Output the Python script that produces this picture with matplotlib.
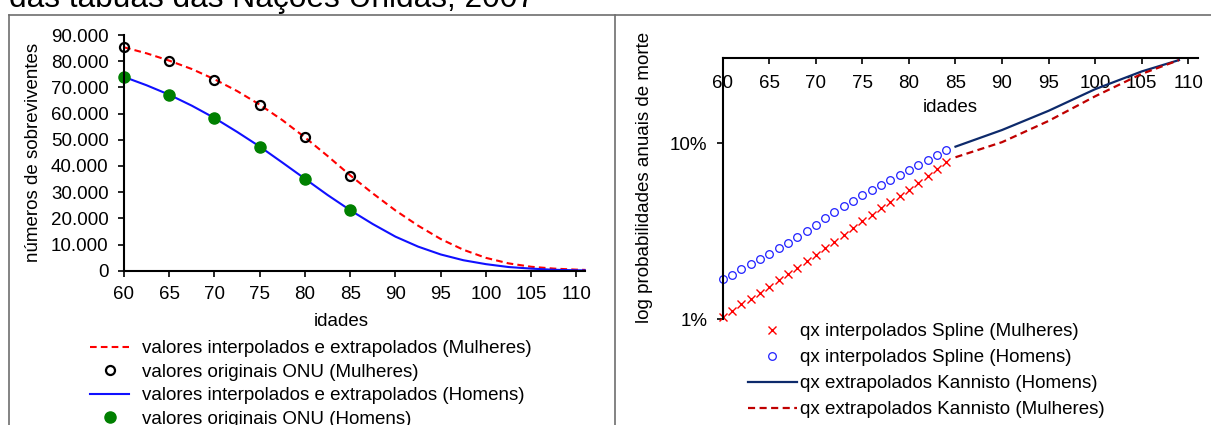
import matplotlib
matplotlib.use("Agg")
import matplotlib.pyplot as plt
from matplotlib.lines import Line2D
from matplotlib.ticker import FuncFormatter, FixedLocator, NullLocator

plt.rcParams['font.family'] = ['Liberation Sans', 'DejaVu Sans']

# painel esquerdo: sobreviventes
idades_curva = [60, 62.5, 65, 67.5, 70, 72.5, 75, 77.5, 80, 82.5, 85, 87.5, 90,
                92.5, 95, 97.5, 100, 102.5, 105, 107.5, 110, 111]
lx_mulheres = [85300, 83000, 80200, 77000, 73100, 68600, 63400, 57500, 50900, 43800,
               36400, 29500, 23000, 17200, 12100, 8000, 4900, 2800, 1500, 800, 400, 300]
lx_homens = [74000, 70800, 67200, 63000, 58300, 53000, 47400, 41300, 35100, 28900,
             23100, 17800, 13000, 9200, 6200, 4000, 2500, 1400, 800, 350, 150, 100]
idades_onu = [60, 65, 70, 75, 80, 85]
onu_mulheres = [85300, 80100, 73000, 63400, 51000, 36300]
onu_homens = [74000, 67200, 58300, 47400, 35100, 23100]

# painel direito: probabilidades de morte
idades_spline = list(range(60, 85))
qx_mulheres = [0.01031, 0.01115, 0.01216, 0.01310, 0.01416, 0.01532, 0.01664, 0.01800,
               0.01955, 0.02133, 0.02316, 0.02538, 0.02757, 0.03021, 0.03296, 0.03596,
               0.03923, 0.04261, 0.04649, 0.05049, 0.05462, 0.05957, 0.06501, 0.07153,
               0.07838]
qx_homens = [0.01686, 0.01792, 0.01921, 0.02051, 0.02199, 0.02357, 0.02538, 0.02721,
             0.02931, 0.03183, 0.03428, 0.03739, 0.04044, 0.04374, 0.04710, 0.05116,
             0.05462, 0.05803, 0.06223, 0.06641, 0.07089, 0.07536, 0.08045, 0.08587,
             0.09128]
idades_kannisto = [85, 90, 95, 100, 105, 109]
kann_homens = [0.0957, 0.119, 0.153, 0.203, 0.256, 0.297]
kann_mulheres = [0.0833, 0.1015, 0.134, 0.185, 0.248, 0.297]

W, H = 1211, 425
fig = plt.figure(figsize=(W / 100, H / 100), dpi=100)

def fx(px):
    return px / W

def fy(py):
    return 1 - py / H

# titulo cortado no topo
fig.text(fx(9), fy(7.5), "das tábuas das Nações Unidas, 2007", fontsize=22.8,
         va='baseline', ha='left', color='black')

# molduras
cinza = '#6e6e6e'
fig.add_artist(Line2D([fx(8.6), 1], [fy(15), fy(15)], color=cinza, lw=1.2))
fig.add_artist(Line2D([fx(8.6), fx(8.6)], [fy(15), 0], color=cinza, lw=1.2))
fig.add_artist(Line2D([fx(615), fx(615)], [fy(15), 0], color=cinza, lw=1.2))

fs = 13.5

# ---- painel esquerdo ----
ax1 = fig.add_axes([fx(124), fy(270.7), fx(585.5 - 124), (270.7 - 35) / H])
l1, = ax1.plot(idades_curva, lx_mulheres, color='#ff0000', lw=1.5, dashes=(3.2, 2))
l2, = ax1.plot(idades_onu, onu_mulheres, 'o', mfc='none', mec='black', mew=1.6, ms=6.5,
               clip_on=False)
l3, = ax1.plot(idades_curva, lx_homens, color='#1010ff', lw=1.5)
l4, = ax1.plot(idades_onu, onu_homens, 'o', color='#008000', ms=8, clip_on=False)
ax1.set_xlim(60, 111)
ax1.set_ylim(0, 90000)
ax1.set_xticks(range(60, 111, 5))
ax1.set_yticks(range(0, 90001, 10000))
ax1.yaxis.set_major_formatter(FuncFormatter(lambda v, p: f"{int(v):,}".replace(',', '.')))
ax1.spines['top'].set_visible(False)
ax1.spines['right'].set_visible(False)
for s in ('left', 'bottom'):
    ax1.spines[s].set_linewidth(1.5)
ax1.tick_params(labelsize=fs, length=4, width=1.2, pad=7)
ax1.set_xlabel("idades", fontsize=fs)
ax1.xaxis.set_label_coords(0.47, -0.18)
ax1.set_ylabel("números de sobreviventes", fontsize=fs)
ax1.yaxis.set_label_coords(-0.178, 0.5)
fig.legend([l1, l2, l3, l4],
           ["valores interpolados e extrapolados (Mulheres)",
            "valores originais ONU (Mulheres)",
            "valores interpolados e extrapolados (Homens)",
            "valores originais ONU (Homens)"],
           loc='upper left', bbox_to_anchor=(fx(90), fy(340)), frameon=False,
           fontsize=fs, handlelength=2.1, handletextpad=0.7, labelspacing=0.34,
           borderpad=0, borderaxespad=0)

# ---- painel direito ----
ax2 = fig.add_axes([fx(722.7), fy(319.3), fx(1197.6 - 722.7), (319.3 - 58.3) / H])
r1, = ax2.plot(idades_spline, qx_mulheres, 'x', color='#ff0000', ms=5.5, mew=1.0,
               clip_on=False)
r2, = ax2.plot(idades_spline, qx_homens, 'o', mfc='none', mec='#2020ff', ms=5.5, mew=0.9,
               clip_on=False)
r3, = ax2.plot(idades_kannisto, kann_homens, color='#0d2a6b', lw=1.6)
r4, = ax2.plot(idades_kannisto, kann_mulheres, color='#c00000', lw=1.6, dashes=(3.2, 2))
ax2.set_yscale('log')
ax2.set_xlim(60, 111)
ax2.set_ylim(0.01, 0.304)
ax2.set_xticks(range(60, 111, 5))
ax2.yaxis.set_major_locator(FixedLocator([0.01, 0.1]))
ax2.yaxis.set_minor_locator(NullLocator())
ax2.set_yticklabels(["1%", "10%"])
ax2.spines['bottom'].set_visible(False)
ax2.spines['right'].set_visible(False)
for s in ('left', 'top'):
    ax2.spines[s].set_linewidth(1.5)
ax2.tick_params(axis='y', labelsize=fs, length=4, width=1.2, pad=7)
ax2.tick_params(axis='x', labelsize=fs, top=True, bottom=False, labeltop=True,
                labelbottom=False, direction='in', length=4, width=1.2, pad=-24)
ax2.text(0.48, 0.81, "idades", transform=ax2.transAxes, fontsize=fs,
         ha='center', va='center')
ax2.set_ylabel("log probabilidades anuais de morte", fontsize=fs)
ax2.yaxis.set_label_coords(-0.147, 0.545)
fig.legend([r1, r2, r3, r4],
           ["qx interpolados Spline (Mulheres)",
            "qx interpolados Spline (Homens)",
            "qx extrapolados Kannisto (Homens)",
            "qx extrapolados Kannisto (Mulheres)"],
           loc='upper left', bbox_to_anchor=(fx(748), fy(323)), frameon=False,
           fontsize=fs, handlelength=2.6, handletextpad=0.2, labelspacing=0.48,
           borderpad=0, borderaxespad=0)

fig.savefig("out.png", dpi=100)
